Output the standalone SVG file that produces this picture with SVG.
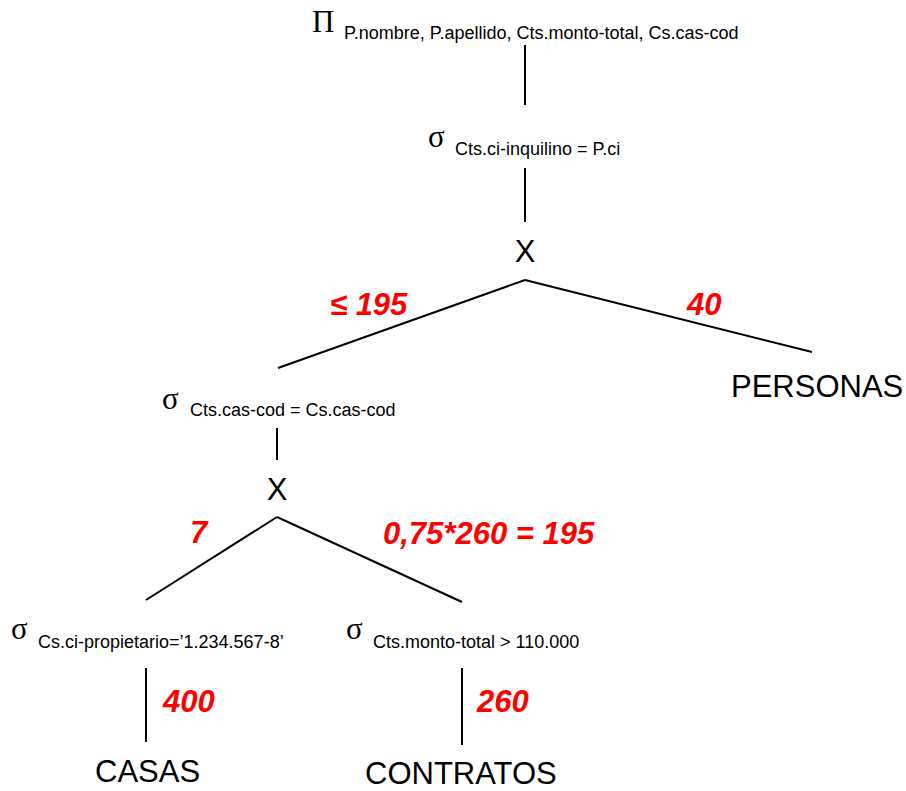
<svg xmlns="http://www.w3.org/2000/svg" width="906" height="791" viewBox="0 0 906 791">
<style>
.op{font-family:"Liberation Serif",serif;font-size:31px;fill:#000}
.sub{font-family:"Liberation Sans",Arial,sans-serif;font-size:18px;fill:#000}
.big{font-family:"Liberation Sans",Arial,sans-serif;font-size:31px;fill:#000}
.red{font-family:"Liberation Sans",Arial,sans-serif;font-size:31px;font-weight:bold;font-style:italic;fill:#ff0000}
.edge{stroke:#000;stroke-width:2;fill:none}
</style>
<rect width="906" height="791" fill="#fff"/>
<g id="connectors">
<line class="edge" x1="525" y1="45" x2="525" y2="105"/>
<line class="edge" x1="525" y1="168" x2="525" y2="222"/>
<line class="edge" x1="525" y1="280" x2="278" y2="368"/>
<line class="edge" x1="525" y1="280" x2="812" y2="352"/>
<line class="edge" x1="277" y1="428" x2="277" y2="460"/>
<line class="edge" x1="277" y1="517" x2="146" y2="600"/>
<line class="edge" x1="277" y1="517" x2="462" y2="602"/>
<line class="edge" x1="146" y1="668" x2="146" y2="742"/>
<line class="edge" x1="462" y1="668" x2="462" y2="745"/>
</g>
<g id="proj">
<text class="op" x="312" y="32">Π</text>
<text class="sub" x="344" y="39">P.nombre, P.apellido, Cts.monto-total, Cs.cas-cod</text>
</g>
<g id="sel1">
<text class="op" x="428" y="147">σ</text>
<text class="sub" x="455" y="155">Cts.ci-inquilino = P.ci</text>
</g>
<g id="prod1">
<text class="big" x="525" y="262" text-anchor="middle">X</text>
</g>
<g id="personas">
<text class="big" x="731" y="397">PERSONAS</text>
</g>
<g id="sel2">
<text class="op" x="162" y="409">σ</text>
<text class="sub" x="190" y="416">Cts.cas-cod = Cs.cas-cod</text>
</g>
<g id="prod2">
<text class="big" x="277" y="500" text-anchor="middle">X</text>
</g>
<g id="sel3">
<text class="op" x="11" y="639">σ</text>
<text class="sub" x="38" y="648">Cs.ci-propietario=’1.234.567-8’</text>
</g>
<g id="sel4">
<text class="op" x="346" y="639">σ</text>
<text class="sub" x="373" y="648">Cts.monto-total &gt; 110.000</text>
</g>
<g id="casas">
<text class="big" x="95" y="782">CASAS</text>
</g>
<g id="contratos">
<text class="big" x="365" y="784">CONTRATOS</text>
</g>
<g id="labels">
<text class="red" x="330" y="315">≤ 195</text>
<text class="red" x="687" y="315">40</text>
<text class="red" x="190" y="543">7</text>
<text class="red" x="383" y="544">0,75*260 = 195</text>
<text class="red" x="163" y="712">400</text>
<text class="red" x="477" y="712">260</text>
</g>
</svg>
